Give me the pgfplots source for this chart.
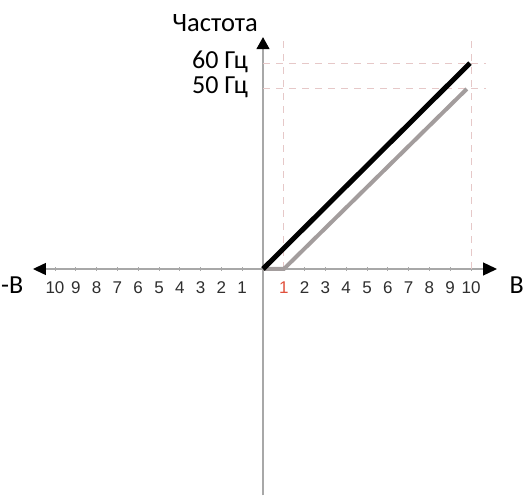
\documentclass[border=0pt]{standalone}
\usepackage{fontspec}
\setmainfont{Carlito}
\newfontfamily\arialfont{Liberation Sans}
\usepackage{pgfplots}
\pgfplotsset{compat=1.18}
\usetikzlibrary{arrows.meta}
\definecolor{axisgray}{HTML}{A8A8A8}
\definecolor{linegray}{HTML}{A39D9D}
\definecolor{dashpink}{HTML}{E6C8C8}
\definecolor{tickred}{HTML}{E0503C}
\definecolor{labelgray}{HTML}{2E2E2E}
\begin{document}
\begin{tikzpicture}
\useasboundingbox (-263pt,-226pt) rectangle (264pt,269pt);
\begin{axis}[
  at={(0,0)}, anchor=origin,
  x=20.8pt, y=3.43pt,
  xmin=-11.06, xmax=11.25, ymin=-66, ymax=67.6,
  axis lines=middle, clip=false,
  axis line style={draw=axisgray, line width=1.3pt},
  x axis line style={{Triangle[color=black,length=13pt,width=12pt]}-{Triangle[color=black,length=14pt,width=13pt]}},
  y axis line style={-{Triangle[color=black,length=12pt,width=13pt]}},
  xtick={-10,-9,-8,-7,-6,-5,-4,-3,-2,-1,1,2,3,4,5,6,7,8,9,10},
  xticklabels={10,9,8,7,6,5,4,3,2,1,\textcolor{tickred}{1},2,3,4,5,6,7,8,9,10},
  xtick style={draw=axisgray, line width=0.8pt},
  major tick length=4pt,
  xticklabel style={font=\arialfont\fontsize{17}{17}\selectfont, text=labelgray, inner sep=0pt, anchor=base, yshift=-23pt},
  ytick={52.5,60},
  yticklabels={50 Гц,60 Гц},
  ytick style={draw=none},
  yticklabel style={font=\fontsize{26}{26}\selectfont, text=black, inner sep=0pt, anchor=base east, xshift=-13pt, yshift=-5pt},
  ylabel={Частота},
  every axis y label/.style={at={(axis cs:0,69.1)}, anchor=base east, inner sep=0pt, xshift=-5pt, font=\fontsize{26.5}{26.5}\selectfont},
  xlabel={В},
  every axis x label/.style={at={(axis cs:11.85,-7)}, anchor=base west, inner sep=0pt, font=\fontsize{26}{26}\selectfont},
]
% dashed guide lines
\addplot[dashpink, line width=0.9pt, dash pattern=on 7pt off 6pt] coordinates {(0,60) (10.74,60)};
\addplot[dashpink, line width=0.9pt, dash pattern=on 7pt off 6pt] coordinates {(0,52.5) (10.74,52.5)};
\addplot[dashpink, line width=0.9pt, dash pattern=on 7pt off 6pt] coordinates {(1,0) (1,68)};
\addplot[dashpink, line width=0.9pt, dash pattern=on 7pt off 6pt] coordinates {(10,0) (10,68)};
% gray characteristic (offset 1 V)
\addplot[linegray, line width=4pt] coordinates {(0,0) (1,0) (9.8,52.5)};
% black characteristic
\addplot[black, line width=5pt] coordinates {(0,0) (9.95,60)};
\node[anchor=base west, inner sep=0pt, font=\fontsize{26}{26}\selectfont] at (axis cs:-12.6,-7) {-В};
\end{axis}
\end{tikzpicture}
\end{document}
